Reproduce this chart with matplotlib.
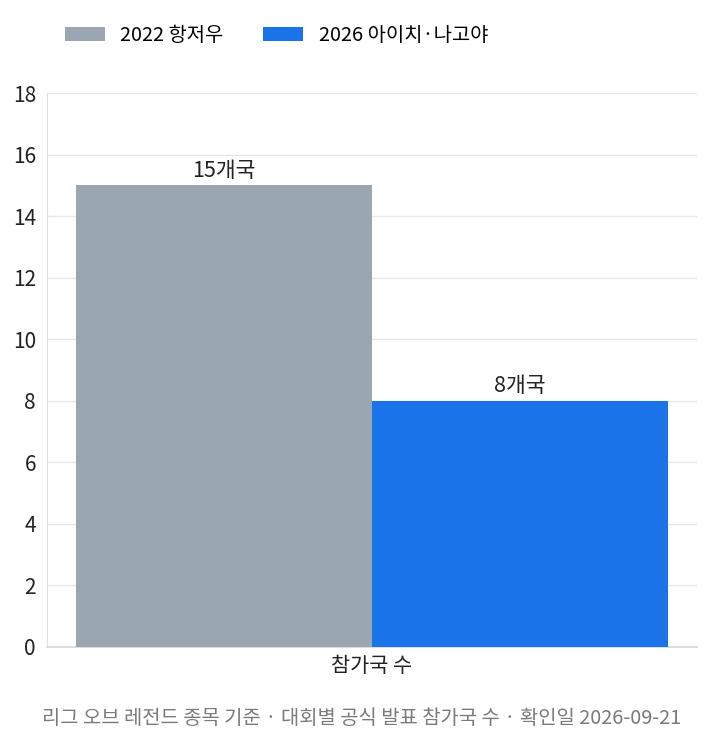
import matplotlib
matplotlib.use("Agg")
import matplotlib.pyplot as plt
import numpy as np

plt.rcParams["font.family"] = ["Noto Sans CJK KR", "DejaVu Sans"]

series = ["2022 항저우", "2026 아이치·나고야"]
values = [15, 8]
value_labels = ["15개국", "8개국"]
colors = ["#9aa6b2", "#1a73e8"]
category = "참가국 수"
footer = "리그 오브 레전드 종목 기준 · 대회별 공식 발표 참가국 수 · 확인일 2026-09-21"

fig = plt.figure(figsize=(7.12, 7.44), dpi=100)
ax = fig.add_axes([0.066, 0.1304, 0.913, 0.7446])

width = 0.455
offsets = [-width / 2, width / 2]
handles = []
for off, v, lab, c, name in zip(offsets, values, value_labels, colors, series):
    b = ax.bar(0 + off, v, width=width, color=c, label=name, zorder=3)
    handles.append(b)
    ax.text(0 + off, v + 0.12, lab, ha="center", va="bottom", fontsize=15.5, color="#222222")

ax.set_xlim(-0.5, 0.5)
ax.set_ylim(0, 18)
ax.set_yticks(np.arange(0, 19, 2))
ax.set_xticks([0])
ax.set_xticklabels([category], fontsize=15, color="#222222")
ax.tick_params(axis="y", labelsize=15, colors="#222222", length=0, pad=8)
ax.tick_params(axis="x", length=0, pad=6)
ax.grid(axis="y", color="#e8e8e8", linewidth=1, zorder=0)
for s in ["top", "right"]:
    ax.spines[s].set_visible(False)
ax.spines["left"].set_color("#e0e0e0")
ax.spines["bottom"].set_color("#dcdcdc")
ax.spines["bottom"].set_linewidth(1.5)

fig.legend(handles=handles, labels=series, loc="upper left", bbox_to_anchor=(0.066, 0.991),
           ncol=2, frameon=False, fontsize=14.3, handlelength=2.0, handleheight=0.7,
           columnspacing=2.0, handletextpad=0.8)

fig.text(0.5084, 0.034, footer, ha="center", va="center", fontsize=14.3, color="#7a7a7a")

fig.savefig("out.png", dpi=100)
